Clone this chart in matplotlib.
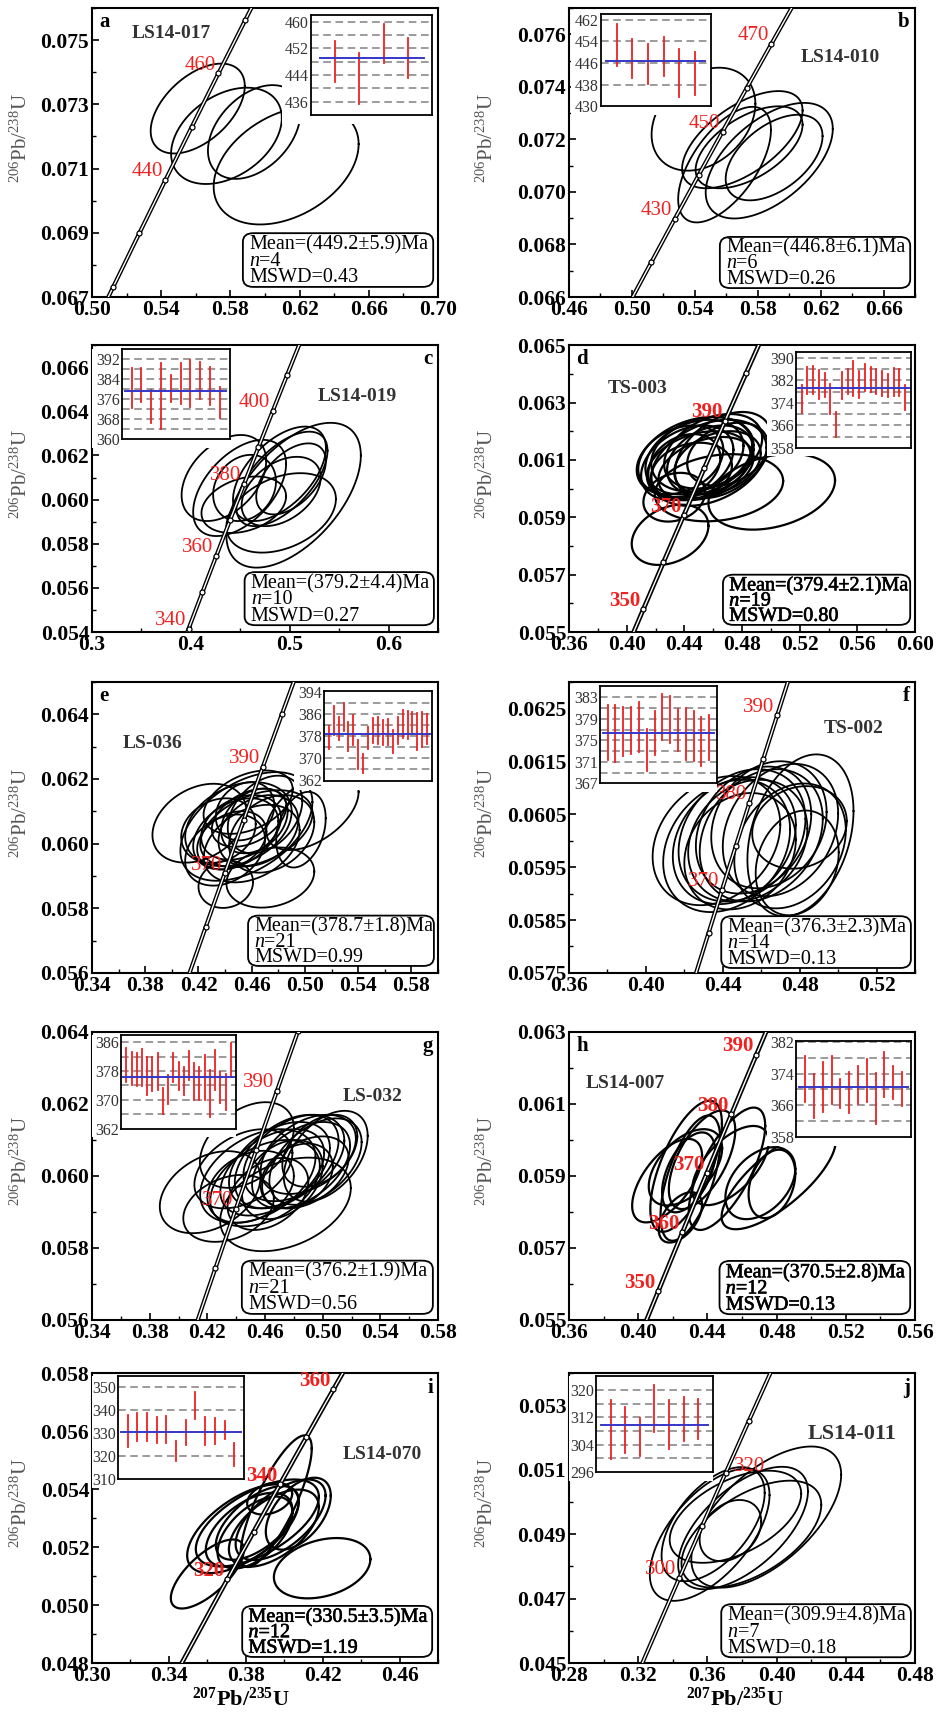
import numpy as np
import matplotlib
matplotlib.use('Agg')
import matplotlib.pyplot as plt
import matplotlib.patheffects as pe
from matplotlib.patches import FancyBboxPatch, Rectangle
from matplotlib.ticker import MultipleLocator

plt.rcParams['font.family'] = 'Liberation Serif'
plt.rcParams['mathtext.fontset'] = 'custom'
plt.rcParams['mathtext.rm'] = 'Liberation Serif'
plt.rcParams['mathtext.it'] = 'Liberation Serif:italic'
plt.rcParams['mathtext.bf'] = 'Liberation Serif:bold'

# decay constants (1/yr)
L238 = 1.55125e-10
L235 = 9.8485e-10

samples = ['LS14-017', 'LS14-010', 'LS14-019', 'TS-003', 'LS-036',
           'TS-002', 'LS-032', 'LS14-007', 'LS14-070', 'LS14-011']
letters = list('abcdefghij')
mean_age = [449.2, 446.8, 379.2, 379.4, 378.7, 376.3, 376.2, 370.5, 330.5, 309.9]
mean_err = [5.9, 6.1, 4.4, 2.1, 1.8, 2.3, 1.9, 2.8, 3.5, 4.8]
n_spots = [4, 6, 10, 19, 21, 14, 21, 12, 12, 7]
mswd = [0.43, 0.26, 0.27, 0.80, 0.99, 0.13, 0.56, 0.13, 1.19, 0.18]

# error ellipses: (207Pb/235U, err, 206Pb/238U, err, rho)
ell_a = [(0.5611, 0.0272, 0.07287, 0.00140, 0.50),
         (0.5777, 0.0320, 0.07202, 0.00150, 0.37),
         (0.5937, 0.0267, 0.07214, 0.00146, 0.40),
         (0.6122, 0.0419, 0.07110, 0.00184, 0.36)]
ell_b = [(0.5455, 0.0330, 0.07277, 0.00196, 0.30),
         (0.5702, 0.0383, 0.07199, 0.00185, 0.60),
         (0.5745, 0.0340, 0.07170, 0.00156, 0.55),
         (0.5589, 0.0295, 0.07104, 0.00220, 0.60),
         (0.5873, 0.0404, 0.07119, 0.00220, 0.55),
         (0.5904, 0.0308, 0.07131, 0.00163, 0.50)]
ell_c = [(0.4334, 0.0428, 0.06098, 0.00195, 0.40),
         (0.4493, 0.0470, 0.06053, 0.00218, 0.50),
         (0.4535, 0.0428, 0.05977, 0.00128, 0.30),
         (0.4913, 0.0554, 0.05940, 0.00180, 0.35),
         (0.5039, 0.0680, 0.06020, 0.00328, 0.55),
         (0.4921, 0.0461, 0.06094, 0.00214, 0.60),
         (0.4896, 0.0470, 0.06117, 0.00214, 0.55),
         (0.5013, 0.0352, 0.06094, 0.00161, 0.50),
         (0.4913, 0.0400, 0.06037, 0.00157, 0.40),
         (0.4543, 0.0318, 0.06053, 0.00150, 0.20)]
ell_d = [(0.437, 0.030, 0.0610, 0.0012, 0.30),
         (0.442, 0.032, 0.0609, 0.0013, 0.35),
         (0.447, 0.034, 0.0611, 0.0013, 0.30),
         (0.450, 0.036, 0.0608, 0.0012, 0.30),
         (0.452, 0.035, 0.0612, 0.0013, 0.25),
         (0.455, 0.033, 0.0607, 0.0011, 0.35),
         (0.445, 0.028, 0.0606, 0.0010, 0.20),
         (0.458, 0.030, 0.0610, 0.0012, 0.30),
         (0.460, 0.034, 0.0613, 0.0013, 0.35),
         (0.448, 0.040, 0.0611, 0.0014, 0.30),
         (0.440, 0.025, 0.0608, 0.0011, 0.25),
         (0.463, 0.030, 0.0609, 0.0011, 0.30),
         (0.470, 0.028, 0.0612, 0.0011, 0.30),
         (0.457, 0.040, 0.0609, 0.0015, 0.35),
         (0.4301, 0.0266, 0.05839, 0.00105, 0.30),
         (0.5006, 0.0439, 0.05989, 0.00132, 0.30),
         (0.4330, 0.0214, 0.05970, 0.00085, 0.20),
         (0.4640, 0.0445, 0.06003, 0.00117, 0.20),
         (0.4670, 0.0335, 0.06117, 0.00150, 0.40)]
ell_e = [(0.4207, 0.0353, 0.06063, 0.00122, 0.30),
         (0.4405, 0.0205, 0.05874, 0.00073, 0.10),
         (0.4740, 0.0330, 0.05895, 0.00093, 0.20),
         (0.4970, 0.0186, 0.06043, 0.00117, 0.30),
         (0.5056, 0.0347, 0.06100, 0.00120, 0.50),
         (0.4573, 0.0335, 0.06128, 0.00098, 0.40),
         (0.4560, 0.0496, 0.06053, 0.00168, 0.45),
         (0.4635, 0.0422, 0.06046, 0.00119, 0.40),
         (0.452, 0.030, 0.0605, 0.0010, 0.30),
         (0.458, 0.028, 0.0608, 0.0009, 0.40),
         (0.462, 0.025, 0.0607, 0.0010, 0.30),
         (0.448, 0.032, 0.0603, 0.0011, 0.35),
         (0.455, 0.022, 0.0610, 0.0009, 0.20),
         (0.465, 0.030, 0.0604, 0.0011, 0.30),
         (0.445, 0.026, 0.0601, 0.0009, 0.30),
         (0.470, 0.028, 0.0609, 0.0012, 0.35),
         (0.450, 0.040, 0.0606, 0.0013, 0.30),
         (0.460, 0.036, 0.0600, 0.0012, 0.35),
         (0.440, 0.030, 0.0598, 0.0011, 0.30),
         (0.475, 0.032, 0.0603, 0.0012, 0.30),
         (0.435, 0.028, 0.0604, 0.0010, 0.20)]
ell_f = [(0.4367, 0.0332, 0.0600, 0.00122, 0.25),
         (0.4420, 0.0330, 0.0599, 0.00125, 0.25),
         (0.4460, 0.0320, 0.0600, 0.00120, 0.25),
         (0.4500, 0.0330, 0.0601, 0.00125, 0.25),
         (0.4530, 0.0310, 0.0600, 0.00115, 0.20),
         (0.4560, 0.0300, 0.0602, 0.00120, 0.25),
         (0.4490, 0.0290, 0.0598, 0.00110, 0.20),
         (0.4600, 0.0320, 0.0601, 0.00125, 0.25),
         (0.4640, 0.0300, 0.0603, 0.00120, 0.20),
         (0.4700, 0.0300, 0.0602, 0.00125, 0.25),
         (0.4804, 0.0276, 0.0601, 0.00153, 0.30),
         (0.4799, 0.0246, 0.06025, 0.00078, 0.15),
         (0.4787, 0.0216, 0.05958, 0.00099, 0.20),
         (0.4750, 0.0290, 0.0599, 0.00118, 0.25)]
ell_g = [(0.4219, 0.0349, 0.05955, 0.00114, 0.35),
         (0.4347, 0.0314, 0.05910, 0.00093, 0.30),
         (0.4474, 0.0326, 0.06086, 0.00119, 0.40),
         (0.5021, 0.0291, 0.06055, 0.00126, 0.45),
         (0.4742, 0.0453, 0.05921, 0.00130, 0.35),
         (0.455, 0.040, 0.0600, 0.0013, 0.40),
         (0.460, 0.038, 0.0598, 0.0012, 0.40),
         (0.465, 0.036, 0.0601, 0.0012, 0.45),
         (0.470, 0.035, 0.0603, 0.0012, 0.40),
         (0.475, 0.036, 0.0604, 0.0013, 0.45),
         (0.480, 0.035, 0.0605, 0.0012, 0.40),
         (0.485, 0.034, 0.0603, 0.0012, 0.45),
         (0.490, 0.033, 0.0606, 0.0011, 0.40),
         (0.495, 0.032, 0.0604, 0.0012, 0.45),
         (0.450, 0.030, 0.0597, 0.0010, 0.30),
         (0.462, 0.028, 0.0595, 0.0010, 0.35),
         (0.488, 0.030, 0.0601, 0.0010, 0.40),
         (0.498, 0.026, 0.0607, 0.0010, 0.40),
         (0.445, 0.034, 0.0602, 0.0011, 0.40),
         (0.472, 0.028, 0.0599, 0.0011, 0.35),
         (0.482, 0.025, 0.0600, 0.0009, 0.30)]
ell_h = [(0.4167, 0.0202, 0.05887, 0.00116, 0.60),
         (0.4277, 0.0207, 0.05927, 0.00182, 0.65),
         (0.4302, 0.0173, 0.05894, 0.00174, 0.60),
         (0.4292, 0.0154, 0.05910, 0.00111, 0.50),
         (0.4369, 0.0192, 0.05945, 0.00137, 0.60),
         (0.4244, 0.0125, 0.05785, 0.00070, 0.50),
         (0.4513, 0.0221, 0.05920, 0.00170, 0.70),
         (0.4533, 0.0221, 0.05929, 0.00110, 0.60),
         (0.4706, 0.0202, 0.05880, 0.00100, 0.40),
         (0.4773, 0.0135, 0.05878, 0.00095, 0.30),
         (0.4812, 0.0330, 0.05892, 0.00140, 0.75),
         (0.4273, 0.0212, 0.05924, 0.00106, 0.50)]
ell_i = [(0.3958, 0.0185, 0.05358, 0.00227, 0.80),
         (0.3600, 0.0190, 0.05107, 0.00119, 0.70),
         (0.4197, 0.0251, 0.05127, 0.00104, 0.30),
         (0.3924, 0.0117, 0.05367, 0.00055, 0.30),
         (0.3785, 0.0290, 0.05263, 0.00153, 0.60),
         (0.3860, 0.0320, 0.05283, 0.00150, 0.60),
         (0.3817, 0.0225, 0.05260, 0.00127, 0.55),
         (0.3860, 0.0216, 0.05283, 0.00127, 0.60),
         (0.3981, 0.0234, 0.05294, 0.00139, 0.60),
         (0.4073, 0.0169, 0.05315, 0.00124, 0.50),
         (0.3946, 0.0234, 0.05265, 0.00133, 0.55),
         (0.3848, 0.0195, 0.05250, 0.00124, 0.55)]
ell_j = [(0.3613, 0.0346, 0.04898, 0.00205, 0.60),
         (0.3633, 0.0298, 0.04931, 0.00177, 0.55),
         (0.3762, 0.0380, 0.04954, 0.00143, 0.50),
         (0.3806, 0.0375, 0.04919, 0.00190, 0.60),
         (0.3940, 0.0433, 0.04953, 0.00219, 0.60),
         (0.3854, 0.0404, 0.04900, 0.00166, 0.55),
         (0.3733, 0.0178, 0.04911, 0.00095, 0.30)]

# concordia age marks (Ma) and labelled ages (age, side)
marks_a = [420, 430, 440, 450, 460, 470]
labels_a = [(440, -1), (460, -1)]
marks_b = [420, 430, 440, 450, 460, 470]
labels_b = [(430, -1), (450, -1), (470, -1)]
marks_c = [340, 350, 360, 370, 380, 390, 400, 410]
labels_c = [(340, -1), (360, -1), (380, -1), (400, -1)]
marks_d = [350, 360, 370, 380, 390, 400]
labels_d = [(350, -1), (370, -1), (390, -1)]
marks_e = [360, 370, 380, 390, 400]
labels_e = [(370, -1), (390, -1)]
marks_f = [365, 370, 375, 380, 385, 390]
labels_f = [(370, -1), (380, -1), (390, -1)]
marks_g = [360, 370, 380, 390, 400]
labels_g = [(370, -1), (390, -1)]
marks_h = [350, 360, 370, 380, 390]
labels_h = [(350, -1), (360, -1), (370, -1), (380, -1), (390, -1)]
marks_i = [320, 330, 340, 350, 360]
labels_i = [(320, -1), (340, -1), (360, -1)]
marks_j = [300, 310, 320, 330]
labels_j = [(300, -1), (320, 1)]

# inset age bars: (upper, lower) in Ma
bars_a = [(454.3, 442.0), (450.7, 435.3), (459.2, 447.7), (455.0, 443.2)]
bars_b = [(460.5, 444.9), (455.0, 440.6), (452.8, 438.2), (455.6, 441.0),
          (451.3, 433.5), (450.2, 434.3)]
bars_c = [(388.3, 372.3), (388.3, 374.9), (379.7, 366.3), (390.4, 364.0),
          (385.6, 374.7), (390.4, 374.0), (391.6, 372.7), (390.7, 376.0),
          (388.7, 373.3), (380.7, 368.3)]
bars_d = [(380.5, 370.3), (386.9, 377.2), (387.3, 377.2), (385.7, 375.4),
          (384.5, 376.0), (380.8, 369.9), (370.7, 361.8), (384.9, 375.4),
          (386.1, 377.2), (388.8, 376.6), (385.5, 375.8), (387.9, 378.4),
          (386.9, 377.8), (386.1, 377.2), (385.5, 376.3), (384.3, 376.0),
          (386.4, 376.6), (386.1, 376.6), (380.5, 371.5)]
bars_e = [(381.7, 373.5), (388.8, 378.3), (384.9, 376.7), (390.0, 379.9),
          (383.1, 372.6), (385.5, 374.7), (376.5, 366.2), (371.7, 364.7),
          (381.3, 373.5), (384.7, 375.5), (384.9, 375.3), (384.0, 374.7),
          (384.3, 374.7), (380.1, 371.9), (384.9, 375.3), (387.4, 377.5),
          (387.1, 377.1), (386.8, 378.9), (386.4, 373.1), (386.8, 374.1),
          (386.0, 375.0)]
bars_f = [(381.6, 371.4), (381.5, 371.0), (381.2, 372.1), (381.2, 372.4),
          (382.1, 372.8), (377.2, 369.3), (380.4, 372.2), (383.6, 375.1),
          (383.3, 374.5), (380.9, 373.1), (381.0, 371.4), (380.4, 371.1),
          (379.4, 370.2), (379.8, 371.3)]
bars_g = [(384.3, 375.0), (383.2, 374.1), (383.1, 373.8), (384.1, 373.9),
          (382.0, 371.3), (381.8, 372.5), (382.9, 372.7), (373.2, 366.2),
          (376.9, 368.8), (382.9, 375.0), (380.6, 372.7), (379.2, 371.3),
          (383.4, 375.5), (380.1, 369.9), (379.2, 369.9), (382.5, 369.9),
          (378.3, 365.3), (383.9, 372.7), (377.8, 369.0), (377.2, 367.1),
          (385.7, 376.4)]
bars_h = [(378.4, 366.9), (374.0, 362.8), (377.0, 364.4), (378.5, 366.3),
          (372.6, 365.3), (374.5, 364.0), (375.9, 366.3), (377.7, 366.9),
          (374.2, 361.3), (379.5, 368.2), (375.9, 367.6), (374.5, 365.7)]
bars_i = [(337.9, 324.3), (339.1, 326.7), (339.1, 326.7), (337.3, 325.7),
          (337.6, 325.7), (326.7, 318.0), (335.9, 324.8), (347.8, 336.2),
          (337.3, 324.8), (336.9, 325.3), (335.5, 327.5), (326.0, 315.8)]
bars_j = [(317.1, 299.9), (315.1, 301.5), (311.8, 300.6), (321.6, 307.7),
          (317.1, 302.8), (318.1, 305.0), (317.4, 305.7)]

ellipses = [ell_a, ell_b, ell_c, ell_d, ell_e, ell_f, ell_g, ell_h, ell_i, ell_j]
marks = [marks_a, marks_b, marks_c, marks_d, marks_e, marks_f, marks_g, marks_h, marks_i, marks_j]
age_labels = [labels_a, labels_b, labels_c, labels_d, labels_e, labels_f, labels_g, labels_h, labels_i, labels_j]
bars = [bars_a, bars_b, bars_c, bars_d, bars_e, bars_f, bars_g, bars_h, bars_i, bars_j]

# layout / axis settings for each panel
cfg = [
    dict(xlim=(0.50, 0.70), xt=[0.50, 0.54, 0.58, 0.62, 0.66, 0.70], xd=2, xm=0.02,
         ylim=(0.067, 0.076), yt=[0.067, 0.069, 0.071, 0.073, 0.075], yd=3, ym=0.001,
         ins=[0.633, 0.630, 0.350, 0.346], iyl=(432, 462), iyt=[436, 444, 452, 460],
         ig=[436, 440, 444, 448, 452, 456, 460],
         box=[0.436, 0.035, 0.550, 0.186], name=(0.115, 0.913), lside='left', bold=False),
    dict(xlim=(0.46, 0.68), xt=[0.46, 0.50, 0.54, 0.58, 0.62, 0.66], xd=2, xm=0.02,
         ylim=(0.066, 0.077), yt=[0.066, 0.068, 0.070, 0.072, 0.074, 0.076], yd=3, ym=0.001,
         ins=[0.092, 0.660, 0.318, 0.319], iyl=(430, 464), iyt=[430, 438, 446, 454, 462],
         ig=[438, 446, 454, 462],
         box=[0.436, 0.031, 0.550, 0.177], name=(0.668, 0.830), lside='right', bold=False),
    dict(xlim=(0.3, 0.65), xt=[0.3, 0.4, 0.5, 0.6], xd=1, xm=0.05,
         ylim=(0.054, 0.067), yt=[0.054, 0.056, 0.058, 0.060, 0.062, 0.064, 0.066], yd=3, ym=0.001,
         ins=[0.086, 0.672, 0.312, 0.314], iyl=(359.7, 396), iyt=[360, 368, 376, 384, 392],
         ig=[364, 368, 372, 376, 380, 384, 388, 392],
         box=[0.441, 0.024, 0.547, 0.185], name=(0.651, 0.822), lside='right', bold=False),
    dict(xlim=(0.36, 0.60), xt=[0.36, 0.40, 0.44, 0.48, 0.52, 0.56, 0.60], xd=2, xm=0.02,
         ylim=(0.055, 0.065), yt=[0.055, 0.057, 0.059, 0.061, 0.063, 0.065], yd=3, ym=0.001,
         ins=[0.656, 0.642, 0.332, 0.333], iyl=(358, 392), iyt=[358, 366, 374, 382, 390],
         ig=[362, 366, 370, 374, 378, 382, 386, 390],
         box=[0.445, 0.025, 0.541, 0.175], name=(0.113, 0.849), lside='left', bold=True),
    dict(xlim=(0.34, 0.60), xt=[0.34, 0.38, 0.42, 0.46, 0.50, 0.54, 0.58], xd=2, xm=0.02,
         ylim=(0.056, 0.065), yt=[0.056, 0.058, 0.060, 0.062, 0.064], yd=3, ym=0.001,
         ins=[0.670, 0.659, 0.313, 0.310], iyl=(361.7, 394.4), iyt=[362, 370, 378, 386, 394],
         ig=[366, 370, 374, 378, 382, 386, 390],
         box=[0.451, 0.024, 0.537, 0.173], name=(0.089, 0.790), lside='left', bold=False),
    dict(xlim=(0.36, 0.54), xt=[0.36, 0.40, 0.44, 0.48, 0.52], xd=2, xm=0.02,
         ylim=(0.0575, 0.063), yt=[0.0575, 0.0585, 0.0595, 0.0605, 0.0615, 0.0625], yd=4, ym=0.0005,
         ins=[0.089, 0.651, 0.339, 0.335], iyl=(367.2, 385.1), iyt=[367, 371, 375, 379, 383],
         ig=[369, 371, 373, 375, 377, 379, 381, 383],
         box=[0.440, 0.017, 0.548, 0.178], name=(0.736, 0.839), lside='right', bold=False),
    dict(xlim=(0.34, 0.58), xt=[0.34, 0.38, 0.42, 0.46, 0.50, 0.54, 0.58], xd=2, xm=0.02,
         ylim=(0.056, 0.064), yt=[0.056, 0.058, 0.060, 0.062, 0.064], yd=3, ym=0.001,
         ins=[0.084, 0.664, 0.332, 0.326], iyl=(362, 388), iyt=[362, 370, 378, 386],
         ig=[366, 370, 374, 378, 382, 386],
         box=[0.433, 0.021, 0.552, 0.185], name=(0.724, 0.776), lside='right', bold=False),
    dict(xlim=(0.36, 0.56), xt=[0.36, 0.40, 0.44, 0.48, 0.52, 0.56], xd=2, xm=0.02,
         ylim=(0.055, 0.063), yt=[0.055, 0.057, 0.059, 0.061, 0.063], yd=3, ym=0.001,
         ins=[0.657, 0.635, 0.331, 0.334], iyl=(358.2, 382.2), iyt=[358, 366, 374, 382],
         ig=[362, 366, 370, 374, 378, 382],
         box=[0.435, 0.020, 0.551, 0.185], name=(0.048, 0.820), lside='left', bold=True),
    dict(xlim=(0.30, 0.48), xt=[0.30, 0.34, 0.38, 0.42, 0.46], xd=2, xm=0.02,
         ylim=(0.048, 0.058), yt=[0.048, 0.050, 0.052, 0.054, 0.056, 0.058], yd=3, ym=0.001,
         ins=[0.075, 0.633, 0.364, 0.357], iyl=(310, 355), iyt=[310, 320, 330, 340, 350],
         ig=[320, 340, 350],
         box=[0.434, 0.021, 0.549, 0.176], name=(0.723, 0.720), lside='right', bold=True),
    dict(xlim=(0.28, 0.48), xt=[0.28, 0.32, 0.36, 0.40, 0.44, 0.48], xd=2, xm=0.02,
         ylim=(0.045, 0.054), yt=[0.045, 0.047, 0.049, 0.051, 0.053], yd=3, ym=0.001,
         ins=[0.078, 0.659, 0.338, 0.331], iyl=(296.2, 324.2), iyt=[296, 304, 312, 320],
         ig=[300, 304, 308, 312, 316, 320],
         box=[0.440, 0.020, 0.548, 0.183], name=(0.690, 0.790), lside='right', bold=False),
]

col_x = [0.0983, 0.6079]
col_w = 0.3697
rows = [(0.8265, 0.1688), (0.6308, 0.1676), (0.4317, 0.1700), (0.2290, 0.1682), (0.0286, 0.1694)]

RED = '#f0211f'


def concordia(age_ma):
    t = np.asarray(age_ma, dtype=float) * 1e6
    return np.expm1(L235 * t), np.expm1(L238 * t)


fig = plt.figure(figsize=(9.36, 17.12), dpi=100)

for k in range(10):
    c = cfg[k]
    r, col = divmod(k, 2)
    ax = fig.add_axes([col_x[col], rows[r][0], col_w, rows[r][1]])
    bold = c['bold']
    fw = 'bold' if bold else 'normal'

    # error ellipses
    tt = np.linspace(0, 2 * np.pi, 240)
    for (x, sx, y, sy, rho) in ellipses[k]:
        ex = x + sx * np.cos(tt)
        ey = y + sy * (rho * np.cos(tt) + np.sqrt(1 - rho * rho) * np.sin(tt))
        ax.plot(ex, ey, color='black', lw=1.6 if bold else 1.3, zorder=2)

    # concordia band
    cx, cy = concordia(np.linspace(250, 520, 800))
    ax.plot(cx, cy, color='black', lw=3.4 if bold else 3.0, zorder=3)
    ax.plot(cx, cy, color='white', lw=1.0, zorder=3.1)
    mx, my = concordia(marks[k])
    ax.plot(mx, my, 'o', ms=3.6, mfc='white', mec='black', mew=0.9, zorder=3.2)
    for age, side in age_labels[k]:
        lx, ly = concordia(age)
        if side < 0:
            ax.annotate(str(age), (lx, ly), xytext=(-2, 6), textcoords='offset points',
                        ha='right', va='center', color=RED, fontsize=15,
                        fontweight=fw, zorder=4)
        else:
            ax.annotate(str(age), (lx, ly), xytext=(6, 5), textcoords='offset points',
                        ha='left', va='center', color=RED, fontsize=15,
                        fontweight=fw, zorder=4)

    ax.set_xlim(c['xlim'])
    ax.set_ylim(c['ylim'])
    ax.set_xticks(c['xt'])
    ax.set_xticklabels([f"{v:.{c['xd']}f}" for v in c['xt']])
    ax.set_yticks(c['yt'])
    ax.set_yticklabels([f"{v:.{c['yd']}f}" for v in c['yt']])
    ax.xaxis.set_minor_locator(MultipleLocator(c['xm']))
    ax.yaxis.set_minor_locator(MultipleLocator(c['ym']))
    ax.tick_params(which='major', direction='in', length=5, width=1.2, pad=2,
                   labelsize=15.5)
    ax.tick_params(which='minor', direction='in', length=3, width=1.0)
    for lab in ax.get_xticklabels() + ax.get_yticklabels():
        lab.set_fontweight('bold')
    for sp in ax.spines.values():
        sp.set_linewidth(1.5)

    ax.set_ylabel('$^{206}$Pb/$^{238}$U', fontsize=15, color='#555555')
    ax.yaxis.set_label_coords(-0.175 if col == 0 else -0.205, 0.55)
    if r == 4:
        ax.set_xlabel(r'$^{\mathbf{207}}$Pb/$^{\mathbf{235}}$U', fontsize=16,
                      fontweight='bold')
        ax.xaxis.set_label_coords(0.43 if col == 0 else 0.48, -0.085)

    # sample name and panel letter
    ax.text(c['name'][0], c['name'][1], samples[k], transform=ax.transAxes,
            fontsize=16 if k == 9 else 14, fontweight='bold', color='#333333',
            ha='left', va='center', zorder=5)
    if c['lside'] == 'left':
        ax.text(0.022, 0.95, letters[k], transform=ax.transAxes, fontsize=15,
                fontweight='bold', ha='left', va='center', zorder=5)
    else:
        ax.text(0.985, 0.95, letters[k], transform=ax.transAxes, fontsize=15,
                fontweight='bold', ha='right', va='center', zorder=5)

    # white area behind the inset and its labels
    ix, iy, iw, ih = c['ins']
    ax.add_patch(Rectangle((ix - 0.085, iy - 0.03), iw + 0.085, ih + 0.03,
                           transform=ax.transAxes, facecolor='white',
                           edgecolor='none', zorder=4.5))
    ins = ax.inset_axes(c['ins'])
    ins.set_zorder(5)
    nb = len(bars[k])
    for g in c['ig']:
        ins.axhline(g, color='#808080', lw=1.1, ls=(0, (5, 3)), zorder=1)
    for i, (hi, lo) in enumerate(bars[k]):
        ins.plot([i + 1, i + 1], [lo, hi], color='#ee2020', lw=1.3, zorder=2)
    ins.plot([0.35, nb + 0.65], [mean_age[k], mean_age[k]], color='#3636c8',
             lw=1.4, zorder=3)
    ins.set_xlim(0, nb + 1)
    ins.set_ylim(c['iyl'])
    ins.set_xticks([])
    ins.set_yticks(c['iyt'])
    ins.tick_params(axis='y', length=0, pad=1.5, labelsize=11.5, labelcolor='#333333')
    for sp in ins.spines.values():
        sp.set_linewidth(1.3)

    # statistics box
    bx, by, bw, bh = c['box']
    ax.add_patch(FancyBboxPatch((bx, by), bw, bh, boxstyle='round,pad=0,rounding_size=0.03',
                                transform=ax.transAxes, facecolor='white',
                                edgecolor='black', lw=1.3, zorder=7))
    tx = bx + 0.018
    fx = [pe.withStroke(linewidth=0.45, foreground='black')] if bold else None
    stats = [
        ax.text(tx, by + bh * 0.78, f"Mean=({mean_age[k]:.1f}\u00b1{mean_err[k]:.1f})Ma",
                transform=ax.transAxes, fontsize=14.5, ha='left', va='center', zorder=8),
        ax.annotate('n', (tx, by + bh * 0.475), xycoords='axes fraction', fontsize=14.5,
                    fontstyle='italic', ha='left', va='center', zorder=8),
        ax.annotate(f"={n_spots[k]}", (tx, by + bh * 0.475), xycoords='axes fraction',
                    xytext=(7.3, 0), textcoords='offset points', fontsize=14.5,
                    ha='left', va='center', zorder=8),
        ax.text(tx, by + bh * 0.17, f"MSWD={mswd[k]:.2f}", transform=ax.transAxes,
                fontsize=14.5, ha='left', va='center', zorder=8),
    ]
    if fx:
        for s in stats:
            s.set_path_effects(fx)

fig.savefig('out.png', dpi=100)
